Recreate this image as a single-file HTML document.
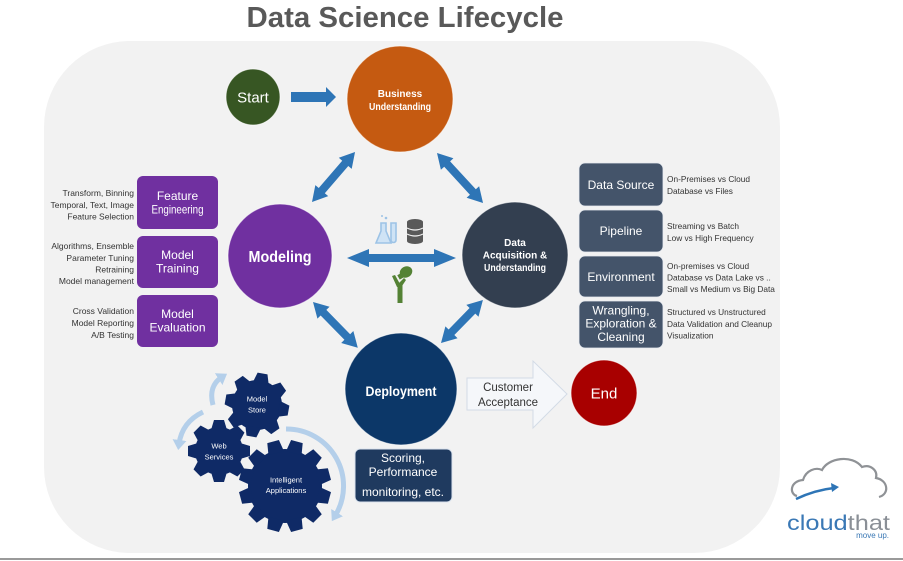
<!DOCTYPE html>
<html>
<head>
<meta charset="utf-8">
<style>
html,body{margin:0;padding:0;background:#fff;}
svg{display:block;font-family:"Liberation Sans",Arial,sans-serif;}
</style>
</head>
<body>
<svg width="903" height="561" viewBox="0 0 903 561" xmlns="http://www.w3.org/2000/svg">
<defs>
  <marker id="lbh" markerWidth="14" markerHeight="14" refX="4" refY="7" orient="auto" markerUnits="userSpaceOnUse">
    <path d="M0,0 L10,7 L0,14 Z" fill="#b4cfea"/>
  </marker>
  <g id="dbl">
    <path d="M0,0 L16,-9 L16,-4 L0,-4 Z" fill="none"/>
  </g>
</defs>

<!-- title -->
<text x="405" y="27" text-anchor="middle" font-size="29" font-weight="bold" fill="#595959" textLength="317" lengthAdjust="spacingAndGlyphs">Data Science Lifecycle</text>

<!-- panel -->
<rect x="44" y="41" width="736" height="512" rx="86" ry="86" fill="#f2f2f2"/>
<!-- bottom rule -->
<rect x="0" y="558" width="903" height="2" fill="#9a9a9a"/>

<!-- Start -->
<ellipse cx="253" cy="97" rx="27" ry="28" fill="#375623" stroke="#ffffff" stroke-opacity="0.6"/>
<text x="253" y="102.5" text-anchor="middle" font-size="15" fill="#fff">Start</text>
<!-- start arrow -->
<path d="M291,92 L326,92 L326,87 L336,97 L326,107 L326,102 L291,102 Z" fill="#2e75b6"/>

<!-- Business Understanding -->
<circle cx="400" cy="99" r="53" fill="#c55a11" stroke="#ffffff" stroke-opacity="0.6"/>
<text x="400" y="97" text-anchor="middle" font-size="10" font-weight="bold" fill="#fff">Business</text>
<text x="400" y="110" text-anchor="middle" font-size="10" font-weight="bold" fill="#fff" textLength="62" lengthAdjust="spacingAndGlyphs">Understanding</text>

<!-- double arrows -->
<g fill="#2e75b6">
  <path transform="translate(312,202) rotate(-49.3)" d="M0,0 L15,-8.5 L15,-4 L51,-4 L51,-8.5 L66,0 L51,8.5 L51,4 L15,4 L15,8.5 Z"/>
  <path transform="translate(437,153) rotate(47.4)" d="M0,0 L15,-8.5 L15,-4 L53,-4 L53,-8.5 L68,0 L53,8.5 L53,4 L15,4 L15,8.5 Z"/>
  <path transform="translate(313,302) rotate(45.6)" d="M0,0 L15,-8.5 L15,-4 L49,-4 L49,-8.5 L64,0 L49,8.5 L49,4 L15,4 L15,8.5 Z"/>
  <path transform="translate(441,343) rotate(-45.7)" d="M0,0 L15,-8.5 L15,-4 L45,-4 L45,-8.5 L60,0 L45,8.5 L45,4 L15,4 L15,8.5 Z"/>
  <path transform="translate(347,258)" d="M0,0 L22,-9 L22,-4 L87,-4 L87,-9 L109,0 L87,9 L87,4 L22,4 L22,9 Z"/>
</g>

<!-- center icons -->
<!-- flask -->
<g fill="none" stroke="#9dc3e6" stroke-width="1.6">
  <path d="M381,223 L381,231 L376,243 L391,243 L386,231 L386,223 Z" fill="#cfe3f5"/>
  <path d="M391,223 L391,240 A2.5,2.5 0 0 0 396,240 L396,223 Z" fill="#cfe3f5"/>
</g>
<circle cx="386" cy="218" r="1.3" fill="#9dc3e6"/>
<circle cx="382" cy="216" r="1" fill="#9dc3e6"/>
<!-- database -->
<g fill="#595959">
  <ellipse cx="415" cy="222" rx="8" ry="3"/>
  <rect x="407" y="222" width="16" height="19" />
  <ellipse cx="415" cy="241" rx="8" ry="3"/>
</g>
<g stroke="#f2f2f2" stroke-width="1.2" fill="none">
  <path d="M407,228 Q415,232 423,228"/>
  <path d="M407,234 Q415,238 423,234"/>
</g>
<!-- green figure -->
<g fill="#548235">
  <rect x="397.5" y="284" width="5" height="19"/>
  <path d="M392,276 L395,275 L400,284 L402,286 L397,287 Z"/>
  <path d="M402,286 L398,284 L404,278 L406,280 Z"/>
  <ellipse cx="406" cy="272" rx="6.5" ry="5.5" transform="rotate(-30 406 272)"/>
  <rect x="398" y="274" width="5" height="5" transform="rotate(-30 400 276)"/>
</g>

<!-- Modeling -->
<circle cx="280" cy="256" r="52" fill="#7030a0" stroke="#ffffff" stroke-opacity="0.6"/>
<text x="280" y="262" text-anchor="middle" font-size="15.5" font-weight="bold" fill="#fff" textLength="63" lengthAdjust="spacingAndGlyphs">Modeling</text>

<!-- Data Acquisition -->
<circle cx="515" cy="255" r="53" fill="#333f50" stroke="#ffffff" stroke-opacity="0.6"/>
<text x="515" y="246" text-anchor="middle" font-size="10" font-weight="bold" fill="#fff">Data</text>
<text x="515" y="258.5" text-anchor="middle" font-size="10" font-weight="bold" fill="#fff">Acquisition &amp;</text>
<text x="515" y="271" text-anchor="middle" font-size="10" font-weight="bold" fill="#fff" textLength="62" lengthAdjust="spacingAndGlyphs">Understanding</text>

<!-- Deployment -->
<circle cx="401" cy="389" r="56" fill="#0c3768" stroke="#ffffff" stroke-opacity="0.6"/>
<text x="401" y="396" text-anchor="middle" font-size="14" font-weight="bold" fill="#fff" textLength="71" lengthAdjust="spacingAndGlyphs">Deployment</text>

<!-- Scoring box -->
<rect x="355" y="449" width="97" height="53" rx="5" fill="#1f3a5f" stroke="#dbe3ee" stroke-width="1"/>
<text x="403" y="462" text-anchor="middle" font-size="12" fill="#fff">Scoring,</text>
<text x="403" y="476" text-anchor="middle" font-size="12" fill="#fff">Performance</text>
<text x="403" y="496" text-anchor="middle" font-size="12" fill="#fff">monitoring, etc.</text>

<!-- Customer Acceptance arrow -->
<path d="M467,378 L533,378 L533,361 L567,394 L533,428 L533,410 L467,410 Z" fill="#f5f7fa" stroke="#d3dbe6" stroke-width="1"/>
<text x="508" y="391" text-anchor="middle" font-size="11.5" fill="#333">Customer</text>
<text x="508" y="406" text-anchor="middle" font-size="11.5" fill="#333">Acceptance</text>

<!-- End -->
<circle cx="604" cy="393" r="33" fill="#a80000" stroke="#ffffff" stroke-opacity="0.6"/>
<text x="604" y="398.5" text-anchor="middle" font-size="15" fill="#fff">End</text>

<!-- Left purple boxes -->
<g fill="#7030a0">
  <rect x="137" y="176" width="81" height="53" rx="6"/>
  <rect x="137" y="236" width="81" height="52" rx="6"/>
  <rect x="137" y="295" width="81" height="52" rx="6"/>
</g>
<g fill="#fff" font-size="12" text-anchor="middle">
  <text x="177.5" y="200">Feature</text>
  <text x="177.5" y="213.5" textLength="52" lengthAdjust="spacingAndGlyphs">Engineering</text>
  <text x="177.5" y="259">Model</text>
  <text x="177.5" y="272.5">Training</text>
  <text x="177.5" y="318">Model</text>
  <text x="177.5" y="331.5">Evaluation</text>
</g>
<g fill="#333" font-size="8.5" text-anchor="end">
  <text x="134" y="196">Transform, Binning</text>
  <text x="134" y="208">Temporal, Text, Image</text>
  <text x="134" y="219.5">Feature Selection</text>
  <text x="134" y="249">Algorithms, Ensemble</text>
  <text x="134" y="261">Parameter Tuning</text>
  <text x="134" y="272.5">Retraining</text>
  <text x="134" y="284">Model management</text>
  <text x="134" y="314">Cross Validation</text>
  <text x="134" y="326">Model Reporting</text>
  <text x="134" y="338">A/B Testing</text>
</g>

<!-- Right dark boxes -->
<g fill="#44546a" stroke="#e6eaf0" stroke-width="0.8">
  <rect x="579" y="163" width="84" height="43" rx="6"/>
  <rect x="579" y="210" width="84" height="42" rx="6"/>
  <rect x="579" y="256" width="84" height="41" rx="6"/>
  <rect x="579" y="301" width="84" height="47" rx="6"/>
</g>
<g fill="#fff" font-size="12" text-anchor="middle">
  <text x="621" y="189">Data Source</text>
  <text x="621" y="235">Pipeline</text>
  <text x="621" y="281">Environment</text>
  <text x="621" y="314.5">Wrangling,</text>
  <text x="621" y="327.5">Exploration &amp;</text>
  <text x="621" y="341">Cleaning</text>
</g>
<g fill="#333" font-size="8.3" text-anchor="start">
  <text x="667" y="182">On-Premises vs Cloud</text>
  <text x="667" y="194">Database vs Files</text>
  <text x="667" y="229">Streaming vs Batch</text>
  <text x="667" y="241">Low vs High Frequency</text>
  <text x="667" y="269">On-premises vs Cloud</text>
  <text x="667" y="280.5">Database vs Data Lake  vs ..</text>
  <text x="667" y="292">Small vs Medium vs Big Data</text>
  <text x="667" y="315">Structured vs Unstructured</text>
  <text x="667" y="327">Data Validation and Cleanup</text>
  <text x="667" y="338.5">Visualization</text>
</g>

<!-- curved light arrows -->
<g fill="none" stroke="#b4cfea" stroke-width="5" stroke-linecap="butt">
  <path d="M213,405 Q208,386 222,377" marker-end="url(#lbh)"/>
  <path d="M203,412 Q182,422 179,444" marker-end="url(#lbh)"/>
  <path d="M286,429 A57,57 0 0 1 335,516" marker-end="url(#lbh)"/>
</g>

<!-- gears -->
<g fill="#0f2a66">
  <g transform="translate(257,405) rotate(10)">
    <circle r="25"/>
    <polygon points="-5,-32 5,-32 8,-22 -8,-22"/>
    <polygon points="-5,-32 5,-32 8,-22 -8,-22" transform="rotate(45)"/>
    <polygon points="-5,-32 5,-32 8,-22 -8,-22" transform="rotate(90)"/>
    <polygon points="-5,-32 5,-32 8,-22 -8,-22" transform="rotate(135)"/>
    <polygon points="-5,-32 5,-32 8,-22 -8,-22" transform="rotate(180)"/>
    <polygon points="-5,-32 5,-32 8,-22 -8,-22" transform="rotate(225)"/>
    <polygon points="-5,-32 5,-32 8,-22 -8,-22" transform="rotate(270)"/>
    <polygon points="-5,-32 5,-32 8,-22 -8,-22" transform="rotate(315)"/>
  </g>
  <g transform="translate(219,451) rotate(0)">
    <circle r="24"/>
    <polygon points="-5,-31 5,-31 8,-21 -8,-21"/>
    <polygon points="-5,-31 5,-31 8,-21 -8,-21" transform="rotate(45)"/>
    <polygon points="-5,-31 5,-31 8,-21 -8,-21" transform="rotate(90)"/>
    <polygon points="-5,-31 5,-31 8,-21 -8,-21" transform="rotate(135)"/>
    <polygon points="-5,-31 5,-31 8,-21 -8,-21" transform="rotate(180)"/>
    <polygon points="-5,-31 5,-31 8,-21 -8,-21" transform="rotate(225)"/>
    <polygon points="-5,-31 5,-31 8,-21 -8,-21" transform="rotate(270)"/>
    <polygon points="-5,-31 5,-31 8,-21 -8,-21" transform="rotate(315)"/>
  </g>
  <g transform="translate(285,486) rotate(15)">
    <circle r="37"/>
    <polygon points="-6,-46 6,-46 8,-34 -8,-34"/>
    <polygon points="-6,-46 6,-46 8,-34 -8,-34" transform="rotate(30)"/>
    <polygon points="-6,-46 6,-46 8,-34 -8,-34" transform="rotate(60)"/>
    <polygon points="-6,-46 6,-46 8,-34 -8,-34" transform="rotate(90)"/>
    <polygon points="-6,-46 6,-46 8,-34 -8,-34" transform="rotate(120)"/>
    <polygon points="-6,-46 6,-46 8,-34 -8,-34" transform="rotate(150)"/>
    <polygon points="-6,-46 6,-46 8,-34 -8,-34" transform="rotate(180)"/>
    <polygon points="-6,-46 6,-46 8,-34 -8,-34" transform="rotate(210)"/>
    <polygon points="-6,-46 6,-46 8,-34 -8,-34" transform="rotate(240)"/>
    <polygon points="-6,-46 6,-46 8,-34 -8,-34" transform="rotate(270)"/>
    <polygon points="-6,-46 6,-46 8,-34 -8,-34" transform="rotate(300)"/>
    <polygon points="-6,-46 6,-46 8,-34 -8,-34" transform="rotate(330)"/>
  </g>
</g>
<g fill="#fff" font-size="7.5" text-anchor="middle">
  <text x="257" y="401.5">Model</text>
  <text x="257" y="412.5">Store</text>
  <text x="219" y="448.5">Web</text>
  <text x="219" y="459.5">Services</text>
  <text x="286" y="482.5">Intelligent</text>
  <text x="286" y="493">Applications</text>
</g>

<!-- cloudthat logo -->
<path d="M797,496 C789,494 790,481 803,480 C806,470 816,467 822,470 C828,458 852,454 862,467 C870,464 878,470 876,478 C888,480 890,494 879,497" fill="none" stroke="#8f9296" stroke-width="2.2"/>
<path d="M796,499 Q815,490 834,488" fill="none" stroke="#2e75b6" stroke-width="2.5"/>
<path d="M831,483 L839,487 L832,492 Z" fill="#2e75b6"/>
<text x="787" y="530" font-size="21" textLength="103" lengthAdjust="spacingAndGlyphs"><tspan fill="#3a78b5">cloud</tspan><tspan fill="#8a8f96">that</tspan></text>
<text x="889" y="538" text-anchor="end" font-size="8" fill="#3a78b5">move up.</text>
</svg>
</body>
</html>
